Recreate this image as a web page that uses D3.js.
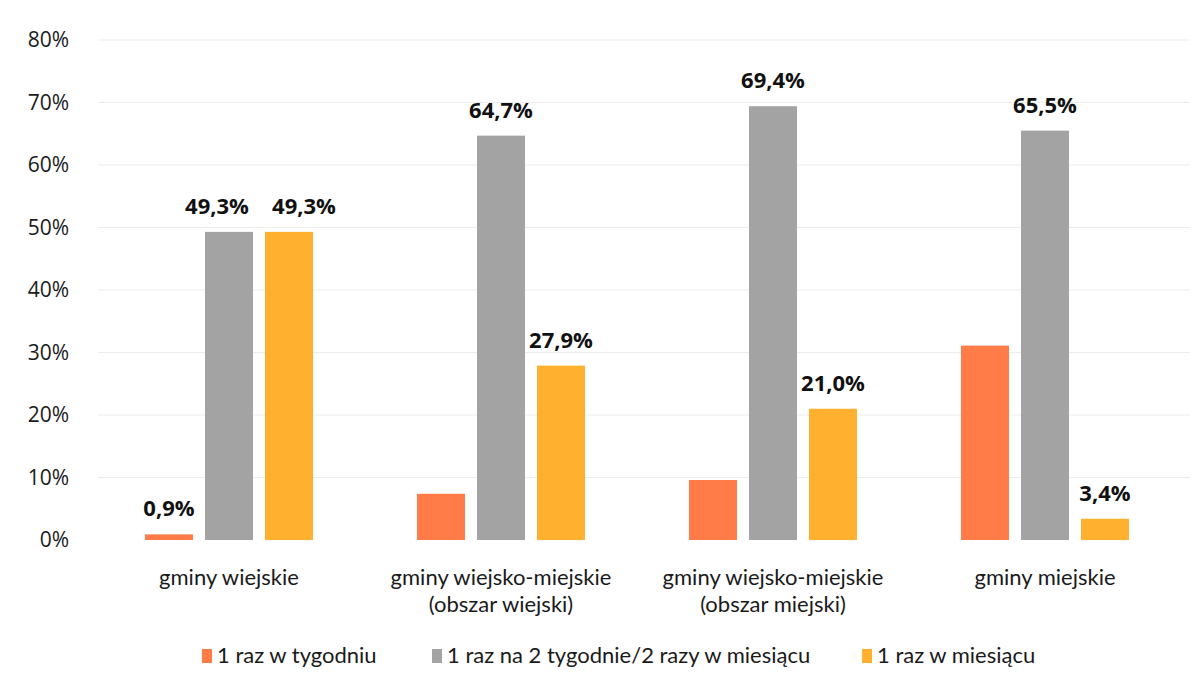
<!DOCTYPE html>
<html>
<head>
<meta charset="utf-8">
<script src="https://cdn.jsdelivr.net/npm/d3@7"></script>
<style>
body{margin:0;background:#fff}
</style>
</head>
<body>
<div id="chart"></div>
<script>
var categories = [["gminy wiejskie"],["gminy wiejsko-miejskie","(obszar wiejski)"],["gminy wiejsko-miejskie","(obszar miejski)"],["gminy miejskie"]]
var seriesNames = ["1 raz w tygodniu","1 raz na 2 tygodnie/2 razy w miesiącu","1 raz w miesiącu"]
var seriesColors = ["#ff7b47","#a3a3a3","#ffb02e"]
var weekly = [0.9,7.4,9.6,31.1]
var biweekly = [49.3,64.7,69.4,65.5]
var monthly = [49.3,27.9,21.0,3.4]
// which bars carry a label (the scan only shows some)
var showWeekly = [true,false,false,false]
var showBiweekly = [true,true,true,true]
var showMonthly = [true,true,true,true]
// labels nudged sideways so they don't collide
var nudgeBiweekly = [-12,0,0,0]
var nudgeMonthly = [15,0,0,0]
var yTicks = [0,10,20,30,40,50,60,70,80]

var W = 1201, H = 680
var svg = d3.select("#chart").append("svg").attr("width",W).attr("height",H)

var y = d3.scaleLinear().domain([0,80]).range([540,40])
var x0 = d3.scaleBand().domain(d3.range(categories.length)).range([93,1181]).padding(0)
var x1 = d3.scaleBand().domain(d3.range(seriesNames.length))
    .range([x0.bandwidth()/2-84, x0.bandwidth()/2+84]).paddingInner(0.2)

//grid
svg.selectAll(".grid").data(yTicks.slice(1)).enter().append("line")
    .attr("x1",98).attr("x2",1190)
    .attr("y1",function(d){return y(d)}).attr("y2",function(d){return y(d)})
    .attr("stroke","#ececec").attr("stroke-width",1)

//y axis
var yAxis = d3.axisLeft(y).tickValues(yTicks).tickSize(0).tickPadding(0)
    .tickFormat(function(d){return d+"%"})
var ya = svg.append("g").attr("transform","translate(69,0)").call(yAxis)
ya.select(".domain").remove()
ya.selectAll("text").attr("font-family","Open Sans").attr("font-size",21).attr("fill","#1a1a1a")

var series = [weekly,biweekly,monthly]
var shows = [showWeekly,showBiweekly,showMonthly]
var nudges = [[0,0,0,0],nudgeBiweekly,nudgeMonthly]
var bars = []
series.forEach(function(vals,s){
    vals.forEach(function(v,i){
        bars.push({s:s,i:i,v:v,show:shows[s][i],dx:nudges[s][i]})
    })
})

svg.selectAll(".bar").data(bars).enter().append("rect")
    .attr("x",function(d){return x0(d.i)+x1(d.s)})
    .attr("width",x1.bandwidth())
    .attr("y",function(d){return y(d.v)})
    .attr("height",function(d){return y(0)-y(d.v)})
    .attr("fill",function(d){return seriesColors[d.s]})

svg.selectAll(".val").data(bars.filter(function(d){return d.show})).enter().append("text")
    .attr("x",function(d){return x0(d.i)+x1(d.s)+x1.bandwidth()/2+d.dx})
    .attr("y",function(d){return y(d.v)-18})
    .attr("text-anchor","middle")
    .attr("font-family","Open Sans").attr("font-weight","bold").attr("font-size",22)
    .attr("fill","#111")
    .text(function(d){return d.v.toFixed(1).replace(".",",")+"%"})

//category labels
var cat = svg.selectAll(".cat").data(categories).enter().append("text")
    .attr("x",function(d,i){return x0(i)+x0.bandwidth()/2})
    .attr("y",585)
    .attr("text-anchor","middle")
    .attr("font-family","Lato").attr("font-size",22).attr("fill","#1a1a1a")
cat.selectAll("tspan").data(function(d){return d}).enter().append("tspan")
    .attr("x",function(){return d3.select(this.parentNode).attr("x")})
    .attr("dy",function(d,j){return j==0?0:27})
    .text(function(d){return d})

//legend
var legendX = [202,432,862]
var lg = svg.selectAll(".leg").data(seriesNames).enter().append("g")
    .attr("transform",function(d,i){return "translate("+legendX[i]+",649)"})
lg.append("rect").attr("width",10).attr("height",14)
    .attr("fill",function(d,i){return seriesColors[i]})
lg.append("text").attr("x",15).attr("y",14)
    .attr("font-family","Lato").attr("font-size",22).attr("fill","#1a1a1a")
    .text(function(d){return d})
</script>
</body>
</html>
